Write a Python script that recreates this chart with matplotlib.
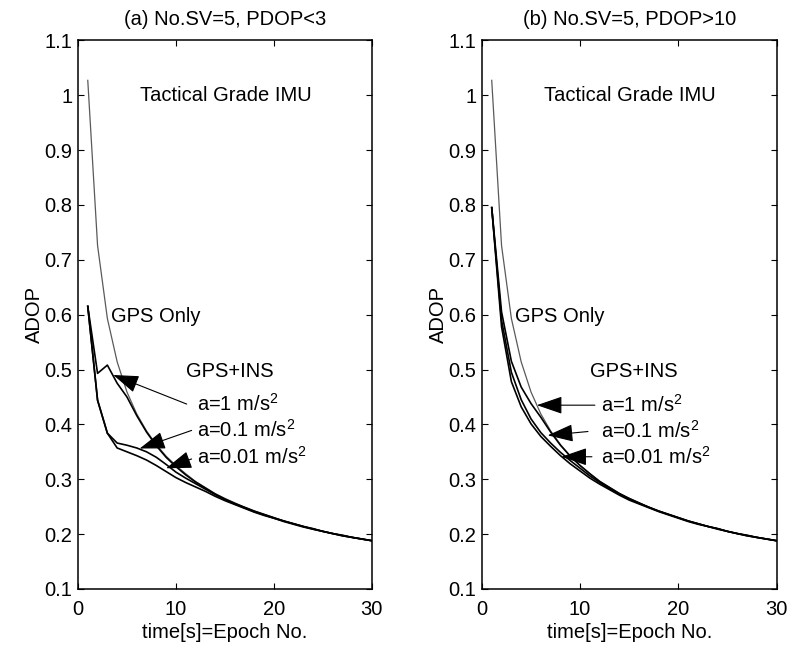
import matplotlib
matplotlib.use("Agg")
import matplotlib.pyplot as plt

plt.rcParams["font.family"] = ["Liberation Sans", "DejaVu Sans"]
plt.rcParams["mathtext.fontset"] = "custom"
plt.rcParams["mathtext.rm"] = "Liberation Sans"

epochs = list(range(1, 31))

# GPS only (same in both panels)
gps_only = [1.027, 0.726, 0.593, 0.514, 0.459, 0.419, 0.388, 0.363, 0.342, 0.325,
            0.310, 0.296, 0.285, 0.274, 0.265, 0.257, 0.249, 0.242, 0.236, 0.230,
            0.224, 0.219, 0.214, 0.210, 0.205, 0.201, 0.198, 0.194, 0.191, 0.188]

# (a) PDOP<3, GPS+INS
a_pdop3_a1 = [0.615, 0.493, 0.508, 0.475, 0.450, 0.416, 0.386, 0.361, 0.340, 0.323,
              0.308, 0.295, 0.284, 0.273, 0.264, 0.256, 0.249, 0.242, 0.236, 0.230,
              0.224, 0.219, 0.214, 0.210, 0.205, 0.201, 0.198, 0.194, 0.191, 0.188]
a_pdop3_a01 = [0.615, 0.444, 0.384, 0.366, 0.362, 0.357, 0.350, 0.340, 0.327, 0.313,
               0.302, 0.292, 0.282, 0.272, 0.263, 0.255, 0.248, 0.241, 0.235, 0.229,
               0.224, 0.219, 0.214, 0.209, 0.205, 0.201, 0.197, 0.194, 0.191, 0.188]
a_pdop3_a001 = [0.615, 0.444, 0.384, 0.357, 0.350, 0.343, 0.335, 0.325, 0.314, 0.303,
                0.294, 0.286, 0.278, 0.269, 0.261, 0.254, 0.247, 0.240, 0.234, 0.229,
                0.223, 0.218, 0.213, 0.209, 0.205, 0.201, 0.197, 0.194, 0.191, 0.188]

# (b) PDOP>10, GPS+INS
b_pdop10_a1 = [0.795, 0.605, 0.515, 0.468, 0.438, 0.413, 0.386, 0.362, 0.342, 0.325,
               0.310, 0.296, 0.285, 0.274, 0.265, 0.257, 0.249, 0.242, 0.236, 0.230,
               0.224, 0.219, 0.214, 0.210, 0.205, 0.201, 0.198, 0.194, 0.191, 0.188]
b_pdop10_a01 = [0.795, 0.590, 0.495, 0.445, 0.410, 0.385, 0.366, 0.349, 0.334, 0.320,
                0.306, 0.294, 0.283, 0.273, 0.264, 0.256, 0.249, 0.242, 0.236, 0.230,
                0.224, 0.219, 0.214, 0.210, 0.205, 0.201, 0.197, 0.194, 0.191, 0.188]
b_pdop10_a001 = [0.795, 0.578, 0.478, 0.432, 0.401, 0.378, 0.360, 0.343, 0.328, 0.315,
                 0.302, 0.291, 0.281, 0.271, 0.262, 0.255, 0.248, 0.241, 0.235, 0.229,
                 0.223, 0.218, 0.214, 0.209, 0.205, 0.201, 0.197, 0.194, 0.191, 0.188]

titles = ["(a) No.SV=5, PDOP<3", "(b) No.SV=5, PDOP>10"]
accel_labels = [r"a=1 m/s$^\mathregular{2}$", r"a=0.1 m/s$^\mathregular{2}$",
                r"a=0.01 m/s$^\mathregular{2}$"]

# label anchor (x, y) and arrow tails / tips per panel
label_pos = [[(12.1, 0.437), (12.1, 0.390), (12.1, 0.341)],
             [(12.1, 0.435), (12.1, 0.388), (12.1, 0.341)]]
arrow_tails = [[(11.1, 0.437), (11.6, 0.389), (11.6, 0.337)],
               [(11.5, 0.435), (10.8, 0.387), (11.2, 0.341)]]
arrow_tips = [[(3.6, 0.490), (6.3, 0.356), (9.0, 0.320)],
              [(5.6, 0.435), (6.7, 0.380), (8.1, 0.341)]]

panels = [(a_pdop3_a1, a_pdop3_a01, a_pdop3_a001),
          (b_pdop10_a1, b_pdop10_a01, b_pdop10_a001)]

FS = 14.5
fig = plt.figure(figsize=(7.9, 6.54), dpi=100)
axes = [fig.add_axes([0.0987, 0.0994, 0.372, 0.839]),
        fig.add_axes([0.610, 0.0994, 0.373, 0.839])]

for i, ax in enumerate(axes):
    ax.plot(epochs, gps_only, color="#5a5a5a", lw=0.9)
    for series in panels[i]:
        ax.plot(epochs, series, color="black", lw=1.2)

    ax.set_xlim(0, 30)
    ax.set_ylim(0.1, 1.1)
    ax.set_xticks([0, 10, 20, 30])
    ax.set_yticks([0.1, 0.2, 0.3, 0.4, 0.5, 0.6, 0.7, 0.8, 0.9, 1.0, 1.1])
    ax.set_yticklabels(["0.1", "0.2", "0.3", "0.4", "0.5", "0.6", "0.7", "0.8", "0.9", "1", "1.1"])
    ax.tick_params(direction="in", length=4, width=0.8, top=True, right=True, labelsize=FS)
    ax.tick_params(axis="x", pad=8)
    ax.tick_params(axis="y", pad=4)
    for sp in ax.spines.values():
        sp.set_linewidth(1.1)

    ax.set_title(titles[i], fontsize=FS, pad=11)
    ax.set_xlabel("time[s]=Epoch No.", fontsize=FS, labelpad=3)
    ax.set_ylabel("ADOP", fontsize=FS, labelpad=0)

    ax.text(15.1, 1.0, "Tactical Grade IMU", fontsize=FS, ha="center", va="center")
    ax.text(3.4, 0.596, "GPS Only", fontsize=FS, ha="left", va="center")
    ax.text(11.0, 0.496, "GPS+INS", fontsize=FS, ha="left", va="center")
    for lab, pos, tail, tip in zip(accel_labels, label_pos[i], arrow_tails[i], arrow_tips[i]):
        ax.text(pos[0], pos[1], lab, fontsize=FS, ha="left", va="center")
        ax.annotate("", xy=tip, xytext=tail,
                    arrowprops=dict(arrowstyle="-|>,head_length=1.6,head_width=0.55",
                                    mutation_scale=10, color="black", lw=0.8,
                                    shrinkA=0, shrinkB=0))

fig.savefig("out.png", dpi=100)
